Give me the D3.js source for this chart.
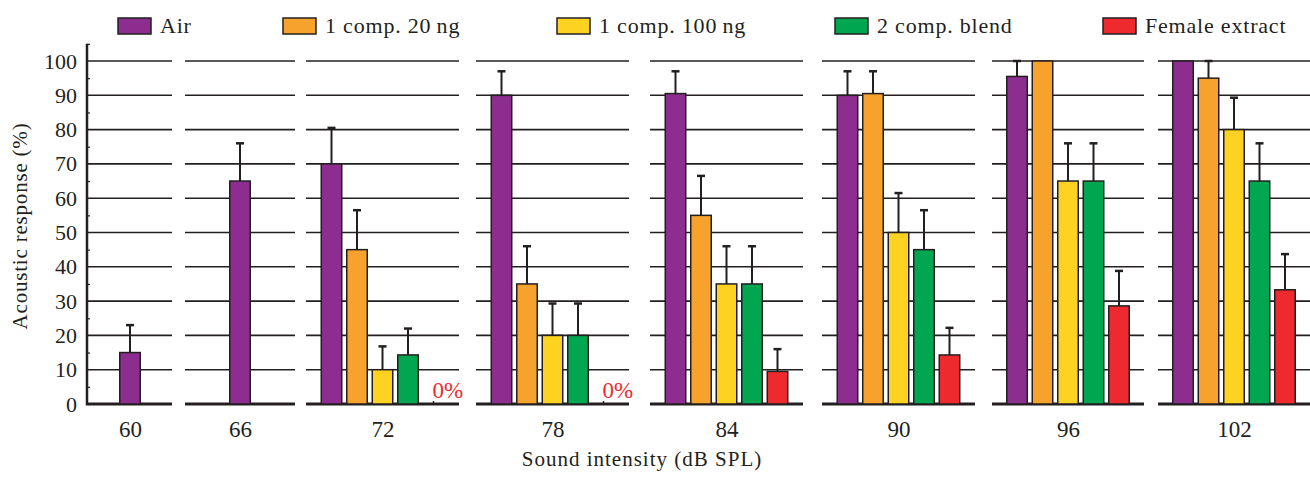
<!DOCTYPE html>
<html>
<head>
<meta charset="utf-8">
<script src="https://cdn.jsdelivr.net/npm/d3@7"></script>
<style>
  body { margin: 0; background: #fff; }
</style>
</head>
<body>
<div id="chart"></div>
<script>
// data
const intensities = [60, 66, 72, 78, 84, 90, 96, 102];
const seriesNames = ['Air', '1 comp. 20\u2009ng', '1 comp. 100\u2009ng', '2 comp. blend', 'Female extract'];
const seriesColors = ['#8c2d8f', '#f6a22d', '#fdd220', '#00a650', '#ee2a2f'];
const air      = [15, 65, 70, 90, 90.5, 90, 95.5, 100];
const airSE    = [8, 11, 10.5, 7, 6.5, 7, 4.5, 0];
const comp20   = [null, null, 45, 35, 55, 90.5, 100, 95];
const comp20SE = [null, null, 11.5, 11, 11.5, 6.5, 0, 5];
const comp100   = [null, null, 10, 20, 35, 50, 65, 80];
const comp100SE = [null, null, 6.8, 9.3, 11, 11.5, 11, 9.3];
const blend   = [null, null, 14.3, 20, 35, 45, 65, 65];
const blendSE = [null, null, 7.7, 9.3, 11, 11.5, 11, 11];
const female   = [null, null, 0, 0, 9.5, 14.3, 28.6, 33.3];
const femaleSE = [null, null, 0, 0, 6.5, 7.9, 10.2, 10.4];
const yTicks = [0, 10, 20, 30, 40, 50, 60, 70, 80, 90, 100];

const means = [air, comp20, comp100, blend, female];
const ses = [airSE, comp20SE, comp100SE, blendSE, femaleSE];

// layout
const width = 1310, height = 479;
const panelX = [[88, 172], [185, 295], [306, 459], [476, 629], [650, 803], [822, 975], [992, 1144], [1158, 1310]];
const legendX = [118, 283, 557, 835, 1103];
const barStep = 25.5, barWidth = 20.5;
const ink = '#231f20';
const serif = '"Liberation Serif"';

const svg = d3.select('#chart').append('svg')
    .attr('width', width)
    .attr('height', height);

const y = d3.scaleLinear().domain([0, 100]).range([404, 61]);

// x positions of panels
const xPanel = d3.scaleOrdinal()
    .domain(intensities)
    .range(panelX.map(p => (p[0] + p[1]) / 2));

// gridlines per panel
panelX.forEach(p => {
    svg.append('g').selectAll('line')
        .data(yTicks)
        .join('line')
        .attr('x1', p[0]).attr('x2', p[1])
        .attr('y1', d => y(d)).attr('y2', d => y(d))
        .attr('stroke', ink)
        .attr('stroke-width', d => d === 0 ? 3 : 1.6);
});

// bars
intensities.forEach((t, i) => {
    const present = seriesNames.filter((s, k) => means[k][i] !== null);
    const cx = xPanel(t);
    const total = (present.length - 1) * barStep + barWidth;
    const x = d3.scaleBand().domain(present)
        .range([cx - total / 2 - (barStep - barWidth) / 2, cx + total / 2 + (barStep - barWidth) / 2])
        .paddingInner((barStep - barWidth) / barStep)
        .paddingOuter((barStep - barWidth) / barStep / 2);

    const rows = present.map(s => {
        const k = seriesNames.indexOf(s);
        return { s, k, v: means[k][i], e: ses[k][i] };
    });

    const g = svg.append('g');
    g.selectAll('rect')
        .data(rows.filter(d => d.v > 0))
        .join('rect')
        .attr('x', d => x(d.s))
        .attr('y', d => y(d.v))
        .attr('width', x.bandwidth())
        .attr('height', d => y(0) - y(d.v))
        .attr('fill', d => seriesColors[d.k])
        .attr('stroke', ink)
        .attr('stroke-width', 1.5);

    const eb = rows.filter(d => d.v > 0 && d.e > 0);
    g.selectAll('line.err')
        .data(eb)
        .join('line')
        .attr('class', 'err')
        .attr('x1', d => x(d.s) + x.bandwidth() / 2).attr('x2', d => x(d.s) + x.bandwidth() / 2)
        .attr('y1', d => y(d.v)).attr('y2', d => y(d.v + d.e))
        .attr('stroke', ink).attr('stroke-width', 2);
    g.selectAll('line.cap')
        .data(eb)
        .join('line')
        .attr('class', 'cap')
        .attr('x1', d => x(d.s) + x.bandwidth() / 2 - 4).attr('x2', d => x(d.s) + x.bandwidth() / 2 + 4)
        .attr('y1', d => y(d.v + d.e)).attr('y2', d => y(d.v + d.e))
        .attr('stroke', ink).attr('stroke-width', 2.5);

    // zero bars: a stub on the baseline and a red label
    const zeros = rows.filter(d => d.v === 0);
    g.selectAll('line.stub')
        .data(zeros)
        .join('line')
        .attr('class', 'stub')
        .attr('x1', d => x(d.s) + x.bandwidth() / 2).attr('x2', d => x(d.s) + x.bandwidth() / 2)
        .attr('y1', y(0)).attr('y2', y(0) - 3)
        .attr('stroke', ink).attr('stroke-width', 1.5);
    g.selectAll('text.zero')
        .data(zeros)
        .join('text')
        .attr('class', 'zero')
        .attr('x', d => x(d.s) + x.bandwidth() / 2 - 1)
        .attr('y', y(0) - 6)
        .style('fill', seriesColors[4])
        .style('font-size', '23px')
        .text('0%');
});

// y axis
const yAxis = d3.axisLeft(y).tickValues(yTicks).tickSize(0).tickPadding(10);
const ya = svg.append('g').attr('transform', 'translate(87,0)').call(yAxis);
ya.select('.domain').remove();
ya.selectAll('text').style('font-size', '22px');
svg.append('line')
    .attr('x1', 87).attr('x2', 87)
    .attr('y1', y(105)).attr('y2', y(0) + 1.5)
    .attr('stroke', ink).attr('stroke-width', 2.5);
const minor = d3.axisRight(y).tickValues(d3.range(5, 106, 10)).tickSize(3).tickFormat('');
const ym = svg.append('g').attr('transform', 'translate(87,0)').call(minor);
ym.select('.domain').remove();
ym.selectAll('line').attr('stroke', ink).attr('stroke-width', 1.2);

// x axis labels
const xAxis = d3.axisBottom(xPanel).tickSize(0).tickPadding(17);
const xa = svg.append('g').attr('transform', `translate(0,${y(0)})`).call(xAxis);
xa.select('.domain').remove();
xa.selectAll('text').style('font-size', '23px');

// axis titles
svg.append('text')
    .attr('x', 642).attr('y', 466)
    .attr('text-anchor', 'middle')
    .style('font-size', '21px')
    .style('letter-spacing', '1px')
    .text('Sound intensity (dB SPL)');
svg.append('text')
    .attr('transform', 'translate(27,226) rotate(-90)')
    .attr('text-anchor', 'middle')
    .style('font-size', '21px')
    .style('letter-spacing', '0.8px')
    .text('Acoustic response (%)');

// legend
const lg = svg.append('g').selectAll('g')
    .data(seriesNames)
    .join('g')
    .attr('transform', (d, i) => `translate(${legendX[i]},18)`);
lg.append('rect')
    .attr('width', 33).attr('height', 16)
    .attr('fill', (d, i) => seriesColors[i])
    .attr('stroke', ink).attr('stroke-width', 1.5);
lg.append('text')
    .attr('x', 42).attr('y', 15)
    .style('font-size', '22px')
    .style('letter-spacing', '0.8px')
    .text(d => d);

svg.selectAll('text').style('font-family', serif);
svg.selectAll('text:not(.zero)').style('fill', ink);
</script>
</body>
</html>
